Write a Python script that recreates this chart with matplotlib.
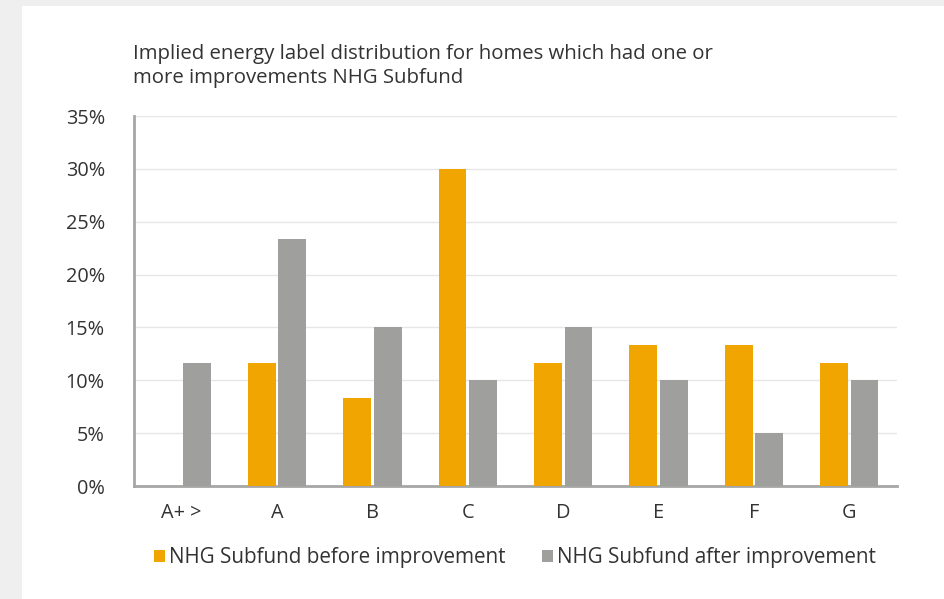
import matplotlib.pyplot as plt
from matplotlib.patches import Rectangle
import numpy as np

plt.rcParams['font.family'] = ['Open Sans', 'DejaVu Sans']

labels = ['A+ >', 'A', 'B', 'C', 'D', 'E', 'F', 'G']
before = [0.0, 11.67, 8.33, 30.0, 11.67, 13.33, 13.33, 11.67]
after = [11.67, 23.33, 15.0, 10.0, 15.0, 10.0, 5.0, 10.0]

orange = '#F0A500'
grey = '#9F9F9E'
txt = '#333333'

fig = plt.figure(figsize=(9.44, 5.99), dpi=100, facecolor='#efefef')
# white card
fig.patches.append(Rectangle((22/944, 0), 1, 1 - 6/599, transform=fig.transFigure,
                             facecolor='white', edgecolor='none', zorder=-1))

ax = fig.add_axes([134/944, 1 - 486/599, (897 - 134)/944, (486 - 116)/599])
ax.set_zorder(2)
ax.patch.set_alpha(0)
x = np.arange(len(labels))
w = 0.29
ax.bar(x - w/2 - 0.015, before, w, color=orange, label='NHG Subfund before improvement', zorder=3)
ax.bar(x + w/2 + 0.015, after, w, color=grey, label='NHG Subfund after improvement', zorder=3)

ax.set_xlim(-0.5, len(labels) - 0.5)
ax.set_ylim(0, 35)
ax.set_yticks(range(0, 36, 5))
ax.set_yticklabels([f'{v}%' for v in range(0, 36, 5)])
ax.set_xticks(x)
ax.set_xticklabels(labels)
ax.grid(axis='y', color='#e6e6e6', linewidth=1, zorder=0)
ax.tick_params(length=0, labelsize=14.3, colors=txt, pad=12)
ax.tick_params(axis='y', pad=21)
for s in ['top', 'right']:
    ax.spines[s].set_visible(False)
ax.spines['left'].set_color('#a6a6a6')
ax.spines['left'].set_linewidth(2)
ax.spines['bottom'].set_color('#a6a6a6')
ax.spines['bottom'].set_linewidth(2)

fig.text(133/944, 1 - 44/599, 'Implied energy label distribution for homes which had one or\nmore improvements NHG Subfund',
         fontsize=14.7, color=txt, va='top', ha='left', linespacing=1.25)

fig.legend(loc='center', bbox_to_anchor=(515/944, 1 - 558/599), ncol=2, frameon=False,
           fontsize=14.9, handlelength=0.5, handleheight=0.5, handletextpad=0.2,
           columnspacing=1.8, labelcolor=txt)

fig.savefig('out.png', dpi=100, facecolor=fig.get_facecolor())
